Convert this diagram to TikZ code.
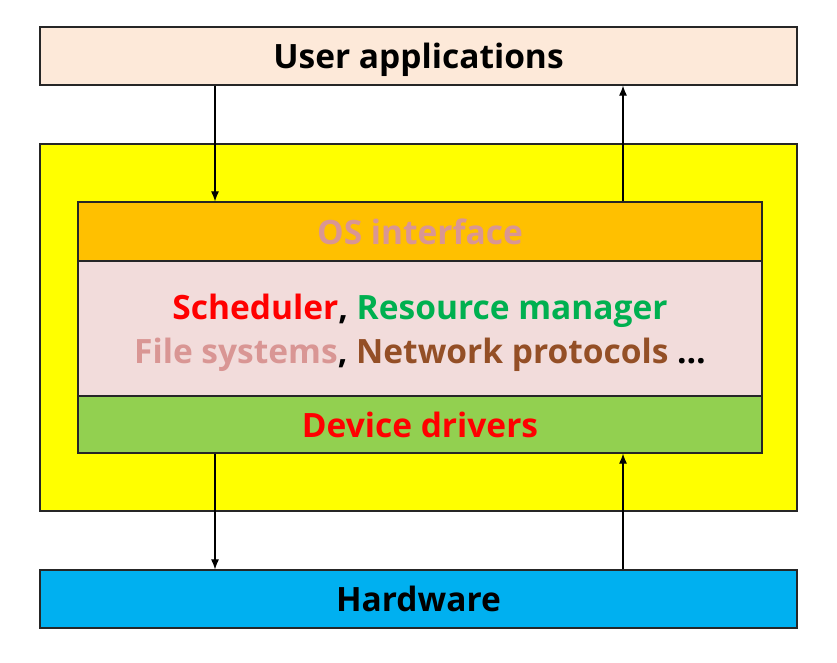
\documentclass[tikz,border=0pt]{standalone}
\usepackage{fontspec}
\setmainfont{Open Sans}
\usetikzlibrary{arrows.meta,positioning}
\definecolor{userpeach}{HTML}{FDE9D9}
\definecolor{kernelyellow}{HTML}{FFFF00}
\definecolor{ifaceorange}{HTML}{FFC000}
\definecolor{corepink}{HTML}{F2DCDB}
\definecolor{drivergreen}{HTML}{92D050}
\definecolor{hwblue}{HTML}{00B0F0}
\definecolor{textrose}{HTML}{D99694}
\definecolor{textgreen}{HTML}{00B050}
\definecolor{textbrown}{HTML}{944F26}
\tikzset{
  layer/.style={draw=black!85, line width=1.2pt, inner sep=0pt, text depth=0pt,
    font=\bfseries\fontsize{33.5}{44}\selectfont},
  link/.style={-{Latex[length=10pt,width=8pt]}, line width=1.1pt}
}
\begin{document}
\begin{tikzpicture}[x=1pt,y=-1pt]
\useasboundingbox (0,0) rectangle (837,663);
% User applications
\node[layer, fill=userpeach, minimum width=757pt, minimum height=58pt] (user) at (418.5,56) {User applications};
% Kernel
\node[layer, fill=kernelyellow, minimum width=757pt, minimum height=367pt] (kernel) at (418.5,327.5) {};
\node[layer, fill=ifaceorange, text=textrose, minimum width=684pt, minimum height=59pt] (osif) at (420,231.5) {OS interface};
\node[layer, fill=corepink, minimum width=684pt, minimum height=135pt, align=center] (core) at (420,328.5)
  {\textcolor{red}{Scheduler}, \textcolor{textgreen}{Resource manager}\\
   \textcolor{textrose}{File systems}, \textcolor{textbrown}{Network protocols} \ldots};
\node[layer, fill=drivergreen, text=red, minimum width=684pt, minimum height=57pt] (drv) at (420,424.5) {Device drivers};
% Hardware
\node[layer, fill=hwblue, minimum width=757pt, minimum height=58pt] (hw) at (418.5,599) {Hardware};
% Links
\coordinate (lx) at (215,0);
\coordinate (rx) at (623,0);
\draw[link] (user.south -| lx) -- (osif.north -| lx);
\draw[link] (osif.north -| rx) -- (user.south -| rx);
\draw[link] (drv.south -| lx) -- (hw.north -| lx);
\draw[link] (hw.north -| rx) -- (drv.south -| rx);
\end{tikzpicture}
\end{document}
